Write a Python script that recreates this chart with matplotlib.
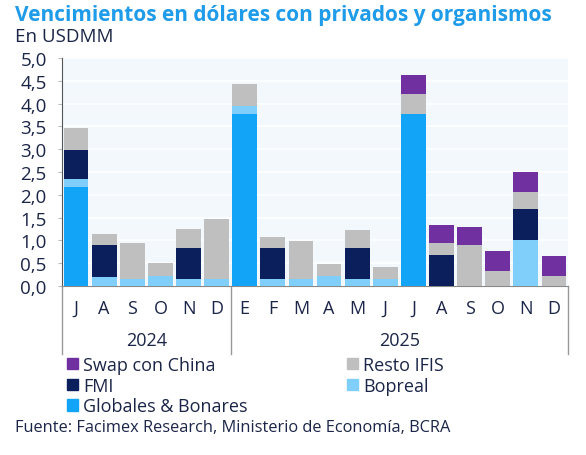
import numpy as np
import matplotlib.pyplot as plt
from matplotlib.patches import Patch
from matplotlib.transforms import blended_transform_factory

months = ["J", "A", "S", "O", "N", "D",
          "E", "F", "M", "A", "M", "J", "J", "A", "S", "O", "N", "D"]
years = ["2024", "2025"]

globales = [2.18, 0, 0, 0, 0, 0, 3.78, 0, 0, 0, 0, 0, 3.77, 0, 0, 0, 0, 0]
bopreal = [0.17, 0.20, 0.16, 0.21, 0.16, 0.16, 0.17, 0.16, 0.16, 0.21, 0.16, 0.16, 0, 0, 0, 0, 1.01, 0]
fmi = [0.64, 0.70, 0, 0, 0.67, 0, 0, 0.67, 0, 0, 0.67, 0, 0, 0.69, 0, 0, 0.67, 0]
resto = [0.47, 0.25, 0.78, 0.30, 0.43, 1.31, 0.47, 0.25, 0.83, 0.28, 0.39, 0.25, 0.43, 0.25, 0.91, 0.33, 0.39, 0.23]
swap = [0, 0, 0, 0, 0, 0, 0, 0, 0, 0, 0, 0, 0.43, 0.39, 0.39, 0.44, 0.43, 0.43]

series = [
    ("Globales & Bonares", globales, "#12A5F7"),
    ("Bopreal", bopreal, "#80CFFA"),
    ("FMI", fmi, "#0A1F5C"),
    ("Resto IFIS", resto, "#BFBFBF"),
    ("Swap con China", swap, "#7030A0"),
]

navy = "#1B2547"
plt.rcParams['font.family'] = ['Open Sans', 'DejaVu Sans']

fig = plt.figure(figsize=(5.86, 4.56), dpi=100)
ax = fig.add_axes([62 / 586, 1 - 287 / 456, 506 / 586, 228 / 456])
ax.set_facecolor("#F3F8FD")

x = np.arange(len(months))
bottom = np.zeros(len(months))
for name, vals, col in series:
    vals = np.array(vals)
    ax.bar(x, vals, width=0.88, bottom=bottom, color=col, label=name, zorder=3)
    bottom += vals

ax.set_xlim(-0.5, len(months) - 0.5)
ax.set_ylim(0, 5)
ax.set_yticks(np.arange(0, 5.01, 0.5))
ax.set_yticklabels([f"{v:.1f}".replace(".", ",") for v in np.arange(0, 5.01, 0.5)],
                   fontsize=13.5, color=navy)
ax.yaxis.grid(True, color="white", linewidth=1.2, zorder=1)
ax.tick_params(axis="y", length=3, color="#BBBBBB", pad=8)
ax.set_xticks(x)
ax.set_xticklabels(months, fontsize=13, color=navy)
ax.tick_params(axis="x", length=0, pad=9)

for s in ["top", "right"]:
    ax.spines[s].set_visible(False)
ax.spines["left"].set_color("#555555")
ax.spines["bottom"].set_color("#888888")

trans = blended_transform_factory(ax.transData, ax.transAxes)
for xs in [-0.5, 5.5, 17.5]:
    ax.plot([xs, xs], [0, -0.3], transform=trans, color="#999999",
            linewidth=1, clip_on=False)
ax.text(2.5, -0.235, years[0], transform=trans, ha="center", va="center",
        fontsize=13, color=navy)
ax.text(11.5, -0.235, years[1], transform=trans, ha="center", va="center",
        fontsize=13, color=navy)

fig.text(15 / 586, 1 - 15 / 456, "Vencimientos en dólares con privados y organismos",
         fontsize=15, fontweight="bold", color="#1E9BE9", va="center")
fig.text(15 / 586, 1 - 37 / 456, "En USDMM", fontsize=13.5, color=navy, va="center")
fig.text(15 / 586, 1 - 428 / 456, "Fuente: Facimex Research, Ministerio de Economía, BCRA",
         fontsize=11.8, color=navy, va="center")

handles = {name: Patch(color=col) for name, vals, col in series}
order = ["Swap con China", "FMI", "Globales & Bonares", "Resto IFIS", "Bopreal"]
fig.legend([handles[n] for n in order], order, ncol=2, frameon=False,
           loc="upper left", bbox_to_anchor=(58 / 586, 1 - 348 / 456),
           fontsize=13, handlelength=0.6, handleheight=0.6, handletextpad=0.3,
           labelspacing=0.15, columnspacing=5.5, borderpad=0, labelcolor=navy)

fig.savefig("out.png", dpi=100)
